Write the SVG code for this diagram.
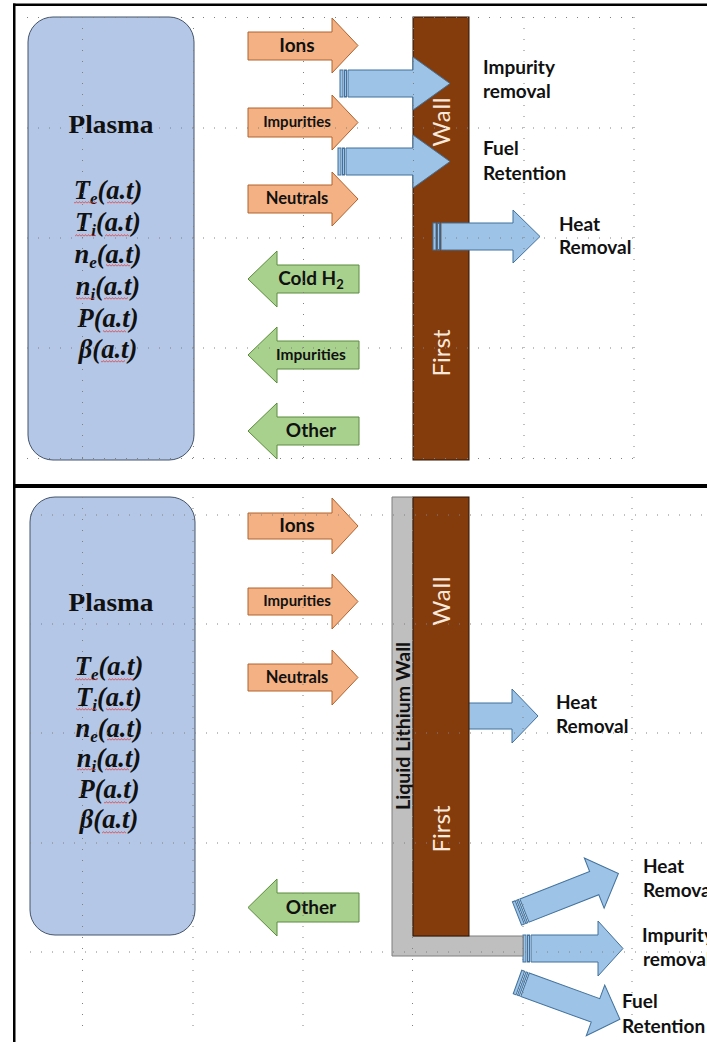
<svg xmlns="http://www.w3.org/2000/svg" width="707" height="1042" viewBox="0 0 707 1042">
<style>
.plasma{fill:#b4c7e7;stroke:#44546a;stroke-width:1}
.ptitle{font-family:"Liberation Serif",serif;font-weight:bold;font-size:25px;fill:#111}
.formula{font-family:"Liberation Serif",serif;font-weight:bold;font-style:italic;font-size:26.5px;fill:#111}
.sub{font-size:17px}
.orange{fill:#f4b183;stroke:#b0622e;stroke-width:1}
.green{fill:#a9d18e;stroke:#5b8a3c;stroke-width:1}
.blue{fill:#9dc3e6;stroke:#41719c;stroke-width:1}
.wall{fill:#843c0c;stroke:#2e1404;stroke-width:1}
.li{fill:#bfbfbf;stroke:#7f7f7f;stroke-width:1}
.lbl{font-family:Lato,"Liberation Sans",sans-serif;font-weight:bold;font-size:19px;fill:#111}
.albl{font-family:Lato,"Liberation Sans",sans-serif;font-weight:bold;fill:#111;text-anchor:middle}
.wtxt{font-family:Lato,"Liberation Sans",sans-serif;font-size:24px;fill:#fbe9dc;text-anchor:middle}
.grid{stroke:#808080;stroke-width:1;stroke-dasharray:1 10;fill:none}
.sq{fill:url(#squig)}
</style>
<defs>
<pattern id="squig" patternUnits="userSpaceOnUse" x="0" y="0" width="3" height="3">
<path d="M0,2.4 L1.5,0.6 L3,2.4" fill="none" stroke="#e23b3b" stroke-width="0.8"/>
</pattern>
</defs>
<rect width="707" height="1042" fill="#fff"/>
<g id="frame" fill="#000">
<rect x="13" y="3.5" width="694" height="2.5"/>
<rect x="13" y="3.5" width="2.5" height="1039"/>
<rect x="13" y="484" width="694" height="4"/>
</g>

<!-- TOP PANEL -->
<g id="plasma-top">
<rect class="plasma" x="28" y="17" width="166" height="443" rx="25"/>
<text class="ptitle" x="111" y="133" text-anchor="middle" textLength="85" lengthAdjust="spacingAndGlyphs">Plasma</text>
<text class="formula" x="108" y="199" text-anchor="middle">T<tspan class="sub" dy="5">e</tspan><tspan dy="-5">(a.t)</tspan></text>
<text class="formula" x="108" y="231" text-anchor="middle">T<tspan class="sub" dy="5">i</tspan><tspan dy="-5">(a.t)</tspan></text>
<text class="formula" x="108" y="263" text-anchor="middle">n<tspan class="sub" dy="5">e</tspan><tspan dy="-5">(a.t)</tspan></text>
<text class="formula" x="108" y="295" text-anchor="middle">n<tspan class="sub" dy="5">i</tspan><tspan dy="-5">(a.t)</tspan></text>
<text class="formula" x="108" y="327" text-anchor="middle">P(a.t)</text>
<text class="formula" x="108" y="358" text-anchor="middle">β(a.t)</text>
<rect class="sq" x="74" y="201" width="23" height="3"/>
<rect class="sq" x="107" y="201" width="26" height="3"/>
<rect class="sq" x="75" y="234" width="21" height="3"/>
<rect class="sq" x="105" y="234" width="24" height="3"/>
<rect class="sq" x="106" y="264" width="24" height="3"/>
<rect class="sq" x="76" y="297" width="19" height="3"/>
<rect class="sq" x="104" y="297" width="24" height="3"/>
<rect class="sq" x="103" y="330" width="23" height="3"/>
<rect class="sq" x="101" y="360" width="24" height="3"/>
</g>

<g id="first-wall-top">
<rect class="wall" x="413" y="17" width="56" height="443"/>
<text class="wtxt" transform="translate(450,122) rotate(-90)" textLength="49" lengthAdjust="spacing">Wall</text>
<text class="wtxt" transform="translate(450,353) rotate(-90)" textLength="47" lengthAdjust="spacing">First</text>
</g>

<g id="ions-top">
<polygon class="orange" points="248,32 332,32 332,18 358,45.5 332,73 332,60 248,60"/>
<text class="albl" x="297" y="52" font-size="19">Ions</text>
</g>
<g id="impurities-in-top">
<polygon class="orange" points="248,108 332,108 332,95 358,122.5 332,150 332,137 248,137"/>
<text class="albl" x="297" y="127" font-size="15">Impurities</text>
</g>
<g id="neutrals-top">
<polygon class="orange" points="248,185 332,185 332,172 358,199 332,226 332,213 248,213"/>
<text class="albl" x="297" y="204" font-size="16.5">Neutrals</text>
</g>
<g id="coldh2-top">
<polygon class="green" points="248,279 277,251 277,265 359,265 359,293 277,293 277,307"/>
<text class="albl" x="311" y="285" font-size="19">Cold H<tspan font-size="13" dy="4">2</tspan></text>
</g>
<g id="impurities-out-top">
<polygon class="green" points="248,355 277,327 277,341 359,341 359,369 277,369 277,383"/>
<text class="albl" x="311" y="360" font-size="15.5">Impurities</text>
</g>
<g id="other-top">
<polygon class="green" points="248,431 277,403 277,417 359,417 359,445 277,445 277,459"/>
<text class="albl" x="311" y="437" font-size="19">Other</text>
</g>

<g id="connectors">
<g id="impurity-removal-arrow" class="blue">
<rect x="340" y="70" width="3" height="27"/>
<rect x="344.5" y="70" width="2" height="27"/>
<polygon points="348,70 413,70 413,57 450,83.5 413,110 413,97 348,97"/>
</g>
<g id="fuel-retention-arrow" class="blue">
<rect x="338" y="148" width="3" height="27"/>
<rect x="342.5" y="148" width="2" height="27"/>
<polygon points="346,148 413,148 413,135 450,161.5 413,188 413,175 346,175"/>
</g>
<g id="heat-removal-arrow-top" class="blue">
<rect x="433" y="223" width="3" height="27"/>
<rect x="437.5" y="223" width="2" height="27"/>
<polygon points="441,223 513,223 513,210 540,236.5 513,263 513,250 441,250"/>
</g>
<g id="heat-removal-arrow-bottom" class="blue">
<rect x="429" y="703" width="3" height="26"/>
<rect x="433.5" y="703" width="2" height="26"/>
<polygon points="437,703 512,703 512,689 538,716 512,743 512,729 437,729"/>
</g>
<g id="heat-removal-arrow-diag" class="blue" transform="translate(517,913.5) rotate(-21.5)">
<rect x="0" y="-12.5" width="3" height="25"/>
<rect x="4.5" y="-12.5" width="2" height="25"/>
<polygon points="8,-12.5 83,-12.5 83,-27 109,0 83,27 83,12.5 8,12.5"/>
</g>
<g id="impurity-removal-arrow-bottom" class="blue">
<rect x="523" y="935" width="3" height="27"/>
<rect x="527.5" y="935" width="2" height="27"/>
<polygon points="531,935 598,935 598,921 623,948.5 598,976 598,962 531,962"/>
</g>
<g id="fuel-retention-arrow-diag" class="blue" transform="translate(517.5,982) rotate(20)">
<rect x="0" y="-12.5" width="3" height="25"/>
<rect x="4.5" y="-12.5" width="2" height="25"/>
<polygon points="8,-12.5 83,-12.5 83,-27 109,0 83,27 83,12.5 8,12.5"/>
</g>
</g>

<g id="labels-top">
<text class="lbl" x="483" y="74">Impurity</text>
<text class="lbl" x="483" y="98">removal</text>
<text class="lbl" x="483" y="155">Fuel</text>
<text class="lbl" x="483" y="180">Retention</text>
<text class="lbl" x="559" y="231">Heat</text>
<text class="lbl" x="559" y="254">Removal</text>
</g>

<!-- BOTTOM PANEL -->
<g id="plasma-bottom">
<rect class="plasma" x="30" y="497" width="165" height="438" rx="25"/>
<text class="ptitle" x="111" y="611" text-anchor="middle" textLength="85" lengthAdjust="spacingAndGlyphs">Plasma</text>
<text class="formula" x="109" y="675" text-anchor="middle">T<tspan class="sub" dy="5">e</tspan><tspan dy="-5">(a.t)</tspan></text>
<text class="formula" x="109" y="706" text-anchor="middle">T<tspan class="sub" dy="5">i</tspan><tspan dy="-5">(a.t)</tspan></text>
<text class="formula" x="109" y="737" text-anchor="middle">n<tspan class="sub" dy="5">e</tspan><tspan dy="-5">(a.t)</tspan></text>
<text class="formula" x="109" y="767" text-anchor="middle">n<tspan class="sub" dy="5">i</tspan><tspan dy="-5">(a.t)</tspan></text>
<text class="formula" x="109" y="798" text-anchor="middle">P(a.t)</text>
<text class="formula" x="109" y="828" text-anchor="middle">β(a.t)</text>
<rect class="sq" x="75" y="678" width="23" height="3"/>
<rect class="sq" x="108" y="678" width="26" height="3"/>
<rect class="sq" x="76" y="708" width="21" height="3"/>
<rect class="sq" x="106" y="708" width="24" height="3"/>
<rect class="sq" x="107" y="738" width="24" height="3"/>
<rect class="sq" x="77" y="768" width="19" height="3"/>
<rect class="sq" x="105" y="768" width="24" height="3"/>
<rect class="sq" x="104" y="801" width="23" height="3"/>
<rect class="sq" x="102" y="831" width="24" height="3"/>
</g>

<g id="liquid-lithium-wall">
<path class="li" d="M392,497 H413 V936 H523 V956 H392 Z"/>
<text class="albl" font-size="19" transform="translate(410,726) rotate(-90)" textLength="168" lengthAdjust="spacingAndGlyphs">Liquid Lithium Wall</text>
</g>
<g id="first-wall-bottom">
<rect class="wall" x="413" y="497" width="56" height="439"/>
<text class="wtxt" transform="translate(450,601) rotate(-90)" textLength="49" lengthAdjust="spacing">Wall</text>
<text class="wtxt" transform="translate(450,829) rotate(-90)" textLength="47" lengthAdjust="spacing">First</text>
</g>

<g id="ions-bottom">
<polygon class="orange" points="248,513 332,513 332,498 358,526 332,554 332,539 248,539"/>
<text class="albl" x="297" y="532" font-size="19">Ions</text>
</g>
<g id="impurities-in-bottom">
<polygon class="orange" points="248,588 332,588 332,574 358,601.5 332,629 332,615 248,615"/>
<text class="albl" x="297" y="606" font-size="15">Impurities</text>
</g>
<g id="neutrals-bottom">
<polygon class="orange" points="248,664 332,664 332,650 358,677.5 332,705 332,691 248,691"/>
<text class="albl" x="297" y="683" font-size="16.5">Neutrals</text>
</g>
<g id="other-bottom">
<polygon class="green" points="248,907.5 277,879 277,893 359,893 359,922 277,922 277,936"/>
<text class="albl" x="311" y="914" font-size="19">Other</text>
</g>

<g id="heat-removal-bottom">
<text class="lbl" x="556" y="709">Heat</text>
<text class="lbl" x="556" y="733">Removal</text>
</g>
<g id="labels-bottom-right">
<text class="lbl" x="643" y="873">Heat</text>
<text class="lbl" x="643" y="897">Removal</text>
<text class="lbl" x="642" y="942">Impurity</text>
<text class="lbl" x="643" y="966">removal</text>
<text class="lbl" x="622" y="1008">Fuel</text>
<text class="lbl" x="622" y="1033">Retention</text>
</g>

<g id="grid">
<path class="grid" d="M27,17.5 H640 M27,128 H640 M27,238 H640 M27,348 H640 M27,458.5 H640"/>
<path class="grid" d="M82.5,17 V460 M193.5,17 V460 M303.5,17 V460 M413.5,17 V460 M524,17 V460 M634,17 V460"/>
<path class="grid" d="M30,515 H707 M30,624 H707 M30,733 H707 M30,843 H707 M30,952 H707"/>
<path class="grid" d="M82.5,497 V1032 M193,497 V1032 M303,497 V1032 M412.5,497 V1032 M523,497 V1032 M632,497 V1032"/>
</g>
</svg>
